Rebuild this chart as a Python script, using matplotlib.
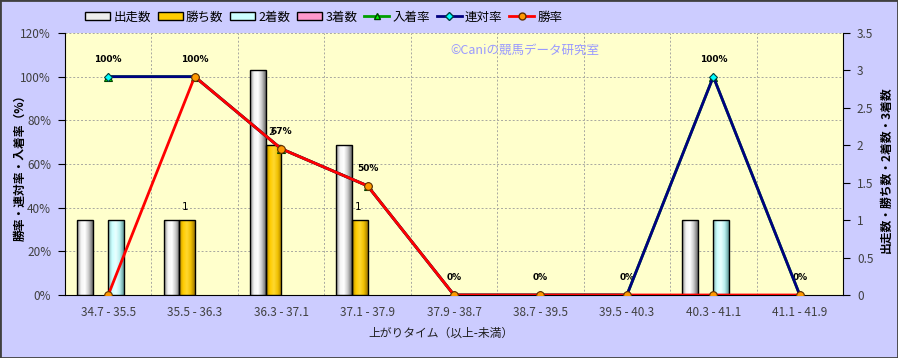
import matplotlib.pyplot as plt
import numpy as np
from matplotlib.colors import LinearSegmentedColormap
from matplotlib.patches import Patch, Rectangle
from matplotlib.lines import Line2D

plt.rcParams['font.family'] = ['Noto Sans CJK JP', 'DejaVu Sans']

categories = ["34.7 - 35.5", "35.5 - 36.3", "36.3 - 37.1", "37.1 - 37.9", "37.9 - 38.7",
              "38.7 - 39.5", "39.5 - 40.3", "40.3 - 41.1", "41.1 - 41.9"]
runs = [1, 1, 3, 2, 0, 0, 0, 1, 0]
wins = [0, 1, 2, 1, 0, 0, 0, 0, 0]
seconds = [1, 0, 0, 0, 0, 0, 0, 1, 0]
thirds = [0, 0, 0, 0, 0, 0, 0, 0, 0]
place_rate = [100, 100, 67, 50, 0, 0, 0, 100, 0]
rentai_rate = [100, 100, 67, 50, 0, 0, 0, 100, 0]
win_rate = [0, 100, 67, 50, 0, 0, 0, 0, 0]

BG = "#CCCCFF"
PLOT_BG = "#FFFFCC"
TICK_COLOR = "#404040"


def shade_bars(ax, bars, colors):
    """棒グラフに円柱っぽいグラデーションを付ける"""
    grad = np.linspace(0, 1, 64).reshape(1, -1)
    cmap = LinearSegmentedColormap.from_list("bar", colors)
    for b in bars:
        if b.get_height() <= 0:
            b.set_linewidth(0)
            continue
        x0, w, h = b.get_x(), b.get_width(), b.get_height()
        im = ax.imshow(grad, cmap=cmap, extent=(x0, x0 + w, 0, h), aspect="auto",
                       interpolation="bilinear", zorder=2.5)
        im.set_clip_path(b)


def main():
    fig = plt.figure(figsize=(8.98, 3.58), dpi=100, facecolor=BG)
    ax = fig.add_axes([65 / 898, 63 / 358, 778 / 898, 262 / 358])
    ax.set_facecolor(PLOT_BG)
    ax2 = ax.twinx()
    ax3 = ax.twinx()

    x = np.arange(len(categories))
    w = 0.18

    # 件数（右軸）
    series = [
        (runs, ["#8a8a8a", "#f4f4f4", "#ffffff", "#c8c8c8", "#6a6a6a"]),
        (wins, ["#b08800", "#ffcc00", "#ffd830", "#f0c000", "#a07800"]),
        (seconds, ["#80b0b0", "#ccffff", "#eaffff", "#b8eeee", "#609898"]),
        (thirds, ["#b05080", "#ff99cc", "#ffc8e0", "#ee88bb", "#a04070"]),
    ]
    for k, (vals, cols) in enumerate(series):
        bars = ax2.bar(x + (k - 1.5) * w, vals, w, facecolor="none",
                       edgecolor="black", linewidth=1, zorder=3)
        shade_bars(ax2, bars, cols)

    for i, v in enumerate(wins):
        if v > 0:
            ax2.annotate(str(v), (x[i] - 0.5 * w, v), xytext=(-1, 9.5),
                         textcoords="offset points", ha="center", va="center",
                         fontsize=7.5, family="DejaVu Sans")

    # 率（左軸）
    ax3.plot(x, place_rate, color="#00a000", lw=2, marker="^", ms=5.5,
             mfc="#00ff00", mec="#004000", mew=0.8, zorder=4)
    ax3.plot(x, rentai_rate, color="#000080", lw=2, marker="D", ms=4.5,
             mfc="#00ffff", mec="#004040", mew=0.8, zorder=5)
    ax3.plot(x, win_rate, color="#ff0000", lw=2, marker="o", ms=5.5,
             mfc="#ff9900", mec="#603000", mew=0.8, zorder=6)
    for i, v in enumerate(rentai_rate):
        ax3.annotate(f"{v}%", (x[i], v), xytext=(0, 12.5), textcoords="offset points",
                     ha="center", va="center", fontsize=6.5, fontweight="bold",
                     family="DejaVu Sans")

    ax.set_xlim(-0.5, len(categories) - 0.5)
    ax.set_ylim(0, 120)
    ax3.set_ylim(0, 120)
    ax2.set_ylim(0, 3.5)
    ax2.set_xlim(-0.5, len(categories) - 0.5)

    ax.set_yticks(np.arange(0, 121, 20))
    ax.set_yticklabels([f"{v}%" for v in range(0, 121, 20)])
    ax.set_xticks(x)
    ax.set_xticklabels(categories)
    ax.set_xticks(np.arange(-0.5, len(categories), 1), minor=True)
    ax.tick_params(axis="x", which="both", length=0, pad=8, labelsize=8.5,
                   labelcolor=TICK_COLOR)
    ax.tick_params(axis="y", length=5, pad=5, labelsize=8.5, labelcolor=TICK_COLOR)
    ax.grid(which="major", axis="y", ls=(0, (2, 2)), color="#a8a8a0", lw=0.7)
    ax.grid(which="minor", axis="x", ls=(0, (2, 2)), color="#a8a8a0", lw=0.7)
    ax.set_axisbelow(True)

    ax2.set_yticks(np.arange(0, 3.6, 0.5))
    ax2.set_yticklabels(["0", "0.5", "1", "1.5", "2", "2.5", "3", "3.5"])
    ax2.tick_params(axis="y", length=5, pad=5, labelsize=8.5, labelcolor=TICK_COLOR)

    ax3.set_yticks([])
    for a in (ax, ax2, ax3):
        a.spines["top"].set_visible(False)
    for a in (ax2, ax3):
        a.spines["left"].set_visible(False)
        a.spines["bottom"].set_visible(False)
    ax3.spines["right"].set_visible(False)
    ax.spines["right"].set_visible(False)

    ax.text(0.591, 0.935, "©Caniの競馬データ研究室", transform=ax.transAxes,
            ha="center", va="center", fontsize=9, color="#9999ff")

    fig.text(20 / 898, 1 - 165 / 358, "勝率・連対率・入着率（%）", rotation=90,
             ha="center", va="center", fontsize=8.5, fontweight="bold")
    fig.text(886 / 898, 1 - 170 / 358, "出走数・勝ち数・2着数・3着数", rotation=90,
             ha="center", va="center", fontsize=8.5, fontweight="bold")
    fig.text(441 / 898, 1 - 333 / 358, "上がりタイム（以上-未満）",
             ha="center", va="center", fontsize=8.5, color="#202020")

    handles = [
        Patch(facecolor="#eeeeee", edgecolor="black", label="出走数"),
        Patch(facecolor="#ffcc00", edgecolor="black", label="勝ち数"),
        Patch(facecolor="#ccffff", edgecolor="black", label="2着数"),
        Patch(facecolor="#ff99cc", edgecolor="black", label="3着数"),
        Line2D([], [], color="#00a000", lw=2, marker="^", ms=5, mfc="#00ff00",
               mec="#004000", label="入着率"),
        Line2D([], [], color="#000080", lw=2, marker="D", ms=4, mfc="#00ffff",
               mec="#004040", label="連対率"),
        Line2D([], [], color="#ff0000", lw=2, marker="o", ms=5, mfc="#ff9900",
               mec="#603000", label="勝率"),
    ]
    fig.legend(handles=handles, loc="center", bbox_to_anchor=(324 / 898, 1 - 17 / 358),
               ncol=7, frameon=False, fontsize=9, handlelength=2.0, handleheight=0.6,
               handletextpad=0.25, columnspacing=0.55)

    fig.patches.append(Rectangle((0, 0), 1, 1, transform=fig.transFigure, fill=False,
                                 edgecolor="#404040", lw=2))

    fig.savefig("out.png", dpi=100, facecolor=BG)


if __name__ == "__main__":
    main()
